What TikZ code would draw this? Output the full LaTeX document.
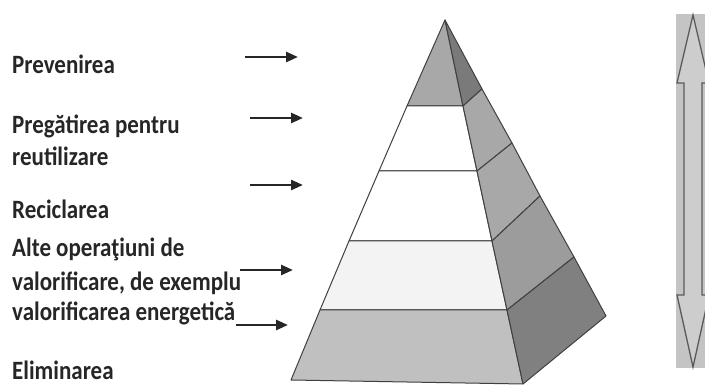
\documentclass[tikz,border=0pt]{standalone}
\usepackage{fontspec}
\setmainfont{Carlito}
\usetikzlibrary{arrows.meta}
\definecolor{edge}{HTML}{404040}
\definecolor{ftop}{HTML}{A8A8A8}
\definecolor{fmid}{HTML}{F3F3F3}
\definecolor{fbot}{HTML}{C0C0C0}
\definecolor{rtop}{HTML}{7A7A7A}
\definecolor{rmid}{HTML}{A8A8A8}
\definecolor{rlow}{HTML}{9C9C9C}
\definecolor{rbot}{HTML}{808080}
\definecolor{arrbg}{HTML}{C4C4C4}
\definecolor{arrfill}{HTML}{CDCDCD}
\definecolor{arrline}{HTML}{5A5A5A}
\newcommand{\tallbox}[1]{\scalebox{1}[1.15]{#1}}
\tikzset{
  lbl/.style={font=\fontsize{23}{31}\selectfont\bfseries, text=black!85, anchor=west, inner sep=0pt, align=left},
  ptr/.style={draw=black!85, line width=2.6pt, -{Triangle[length=12pt,width=10pt]}},
  face/.style={draw=edge, line width=1pt, line join=round}
}
\begin{document}
\begin{tikzpicture}[x=1pt,y=-1pt]
\useasboundingbox (0,0) rectangle (705,387);
% pyramid coordinates
\coordinate (A) at (445,20);
\coordinate (L1) at (407,106);
\coordinate (L2) at (379,171);
\coordinate (L3) at (349,241);
\coordinate (L4) at (320,310);
\coordinate (L5) at (291,380);
\coordinate (R1) at (463,106);
\coordinate (R2) at (477,171);
\coordinate (R3) at (492,241);
\coordinate (R4) at (507,310);
\coordinate (R5) at (523,384);
\coordinate (B1) at (482,89);
\coordinate (B2) at (512,143);
\coordinate (B3) at (540,196);
\coordinate (B4) at (574,257);
\coordinate (B5) at (606,316);
% front face
\filldraw[face, fill=ftop] (A) -- (R1) -- (L1) -- cycle;
\filldraw[face, fill=white] (L1) -- (R1) -- (R2) -- (L2) -- cycle;
\filldraw[face, fill=white] (L2) -- (R2) -- (R3) -- (L3) -- cycle;
\filldraw[face, fill=fmid] (L3) -- (R3) -- (R4) -- (L4) -- cycle;
\filldraw[face, fill=fbot] (L4) -- (R4) -- (R5) -- (L5) -- cycle;
% right face
\filldraw[face, fill=rtop] (A) -- (B1) -- (R1) -- cycle;
\filldraw[face, fill=rmid] (R1) -- (B1) -- (B2) -- (R2) -- cycle;
\filldraw[face, fill=rmid] (R2) -- (B2) -- (B3) -- (R3) -- cycle;
\filldraw[face, fill=rlow] (R3) -- (B3) -- (B4) -- (R4) -- cycle;
\filldraw[face, fill=rbot] (R4) -- (B4) -- (B5) -- (R5) -- cycle;
% double arrow on the right
\fill[arrbg] (676,14) rectangle (705,368);
\filldraw[draw=arrline, fill=arrfill, line width=1.3pt, line join=miter]
  (693,15) -- (709,83) -- (702,83) -- (702,295) -- (709,295) -- (693,367)
  -- (677,295) -- (684,295) -- (684,83) -- (677,83) -- cycle;
% labels
\node[lbl] (t1) at (12,64) {\tallbox{Prevenirea}};
\node[lbl] (t2) at (12,126) {\tallbox{Pregătirea pentru}};
\node[lbl] (t2b) at (12,156) {\tallbox{reutilizare}};
\node[lbl] (t3) at (12,209) {\tallbox{Reciclarea}};
\node[lbl] (t4) at (12,249) {\tallbox{Alte operaţiuni de}};
\node[lbl] (t4b) at (12,283) {\tallbox{valorificare, de exemplu}};
\node[lbl] (t4c) at (12,313) {\tallbox{valorificarea energetică}};
\node[lbl] (t5) at (12,370) {\tallbox{Eliminarea}};
% pointer arrows
\coordinate (a1s) at (245,57); \coordinate (a1e) at (298,57);
\coordinate (a2s) at (250,118); \coordinate (a2e) at (303,118);
\coordinate (a3s) at (250,185); \coordinate (a3e) at (303,185);
\coordinate (a4s) at (240,270); \coordinate (a4e) at (293,270);
\coordinate (a5e) at (288,325);
\draw[ptr] (a1s) -- (a1e);
\draw[ptr] (a2s) -- (a2e);
\draw[ptr] (a3s) -- (a3e);
\draw[ptr] (a4s) -- (a4e);
\draw[ptr] (t4c.east |- a5e) -- (a5e);
\end{tikzpicture}
\end{document}
